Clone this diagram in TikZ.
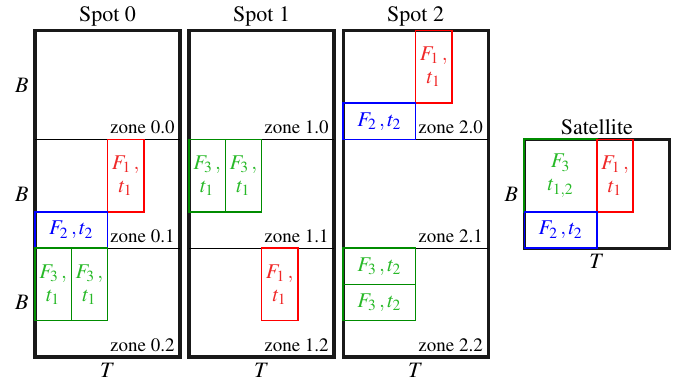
\documentclass[tikz,border=0pt]{standalone}
\usepackage[T1]{fontenc}
\usepackage{mathptmx}
\usetikzlibrary{positioning}
\definecolor{boxgreen}{RGB}{0,140,0}
\definecolor{textgreen}{RGB}{40,185,40}
\definecolor{textred}{RGB}{240,40,40}

\begin{document}
\begin{tikzpicture}[
  x=18.125pt,
  y=18.125pt,
  font=\fontsize{11}{13}\selectfont,
  spot/.style={
    rectangle,
    draw=black!90,
    line width=1.6pt,
    anchor=south west,
    inner sep=0pt,
    outer sep=0pt,
    minimum width=72.5pt,
    minimum height=163.125pt
  },
  satbox/.style={
    spot,
    minimum height=54.375pt
  },
  item/.style={
    rectangle,
    anchor=south west,
    line width=0.75pt,
    inner sep=0pt,
    outer sep=0pt,
    align=center,
    font=\fontsize{10.5}{11.5}\selectfont
  },
  tall/.style={minimum width=18.125pt, minimum height=36.25pt},
  wide/.style={minimum width=36.25pt, minimum height=18.125pt},
  square/.style={minimum width=36.25pt, minimum height=36.25pt},
  fone/.style={item, tall, draw=red, text=textred},
  ftwo/.style={item, wide, draw=blue, text=blue},
  fthree/.style={item, draw=boxgreen, text=textgreen},
  divider/.style={draw=black, line width=0.5pt},
  zonelabel/.style={
    anchor=south east,
    inner sep=2.5pt,
    font=\fontsize{9.5}{11}\selectfont
  },
  title/.style={inner sep=2pt},
  axis/.style={inner sep=3pt}
]

\useasboundingbox (-0.966,-0.662) rectangle (17.82,9.848);

% spots
\node[spot] (spot0) at (0,0) {};
\node[spot] (spot1) at (4.25,0) {};
\node[spot] (spot2) at (8.5,0) {};
\node[satbox] (sat) at (13.5,3) {};

\draw[divider] (0,6) -- (4,6);
\draw[divider] (0,3) -- (4,3);
\draw[divider] (4.25,6) -- (8.25,6);
\draw[divider] (4.25,3) -- (8.25,3);
\draw[divider] (8.5,6) -- (12.5,6);
\draw[divider] (8.5,3) -- (12.5,3);

\node[title, above=0pt of spot0] (title0) {Spot 0};
\node[title, above=0pt of spot1] (title1) {Spot 1};
\node[title, above=0pt of spot2] (title2) {Spot 2};
\node[title, above=0pt of sat] (titlesat) {Satellite};

% spot 0
\node[fone] (s0f1) at (2,4) {$F_1\,,$\\$t_1$};
\node[ftwo] (s0f2) at (0,3) {$F_2\,, t_2$};
\node[fthree, tall] (s0f3a) at (0,1) {$F_3\,,$\\$t_1$};
\node[fthree, tall] (s0f3b) at (1,1) {$F_3\,,$\\$t_1$};

% spot 1
\node[fthree, tall] (s1f3a) at (4.25,4) {$F_3\,,$\\$t_1$};
\node[fthree, tall] (s1f3b) at (5.25,4) {$F_3\,,$\\$t_1$};
\node[fone] (s1f1) at (6.25,1) {$F_1\,,$\\$t_1$};

% spot 2
\node[fone] (s2f1) at (10.5,7) {$F_1\,,$\\$t_1$};
\node[ftwo] (s2f2) at (8.5,6) {$F_2\,, t_2$};
\node[fthree, wide] (s2f3a) at (8.5,2) {$F_3\,, t_2$};
\node[fthree, wide] (s2f3b) at (8.5,1) {$F_3\,, t_2$};

% satellite
\node[fthree, square, line width=1pt] (satf3) at (13.5,4) {$F_3$\\$t_{1,2}$};
\node[fone] (satf1) at (15.5,4) {$F_1\,,$\\$t_1$};
\node[ftwo] (satf2) at (13.5,3) {$F_2\,, t_2$};

% zones
\node[zonelabel] (z00) at (4,6) {zone 0.0};
\node[zonelabel] (z01) at (4,3) {zone 0.1};
\node[zonelabel] (z02) at (4,0) {zone 0.2};
\node[zonelabel] (z10) at (8.25,6) {zone 1.0};
\node[zonelabel] (z11) at (8.25,3) {zone 1.1};
\node[zonelabel] (z12) at (8.25,0) {zone 1.2};
\node[zonelabel] (z20) at (12.5,6) {zone 2.0};
\node[zonelabel] (z21) at (12.5,3) {zone 2.1};
\node[zonelabel] (z22) at (12.5,0) {zone 2.2};

% axes
\node[axis, anchor=east] (b0) at (0,7.5) {$B$};
\node[axis, anchor=east] (b1) at (0,4.5) {$B$};
\node[axis, anchor=east] (b2) at (0,1.5) {$B$};
\node[axis, left=0pt of sat] (bsat) {$B$};
\node[axis, below=0pt of spot0] (t0) {$T$};
\node[axis, below=0pt of spot1] (t1) {$T$};
\node[axis, below=0pt of spot2] (t2) {$T$};
\node[axis, below=0pt of sat] (tsat) {$T$};

\end{tikzpicture}
\end{document}
